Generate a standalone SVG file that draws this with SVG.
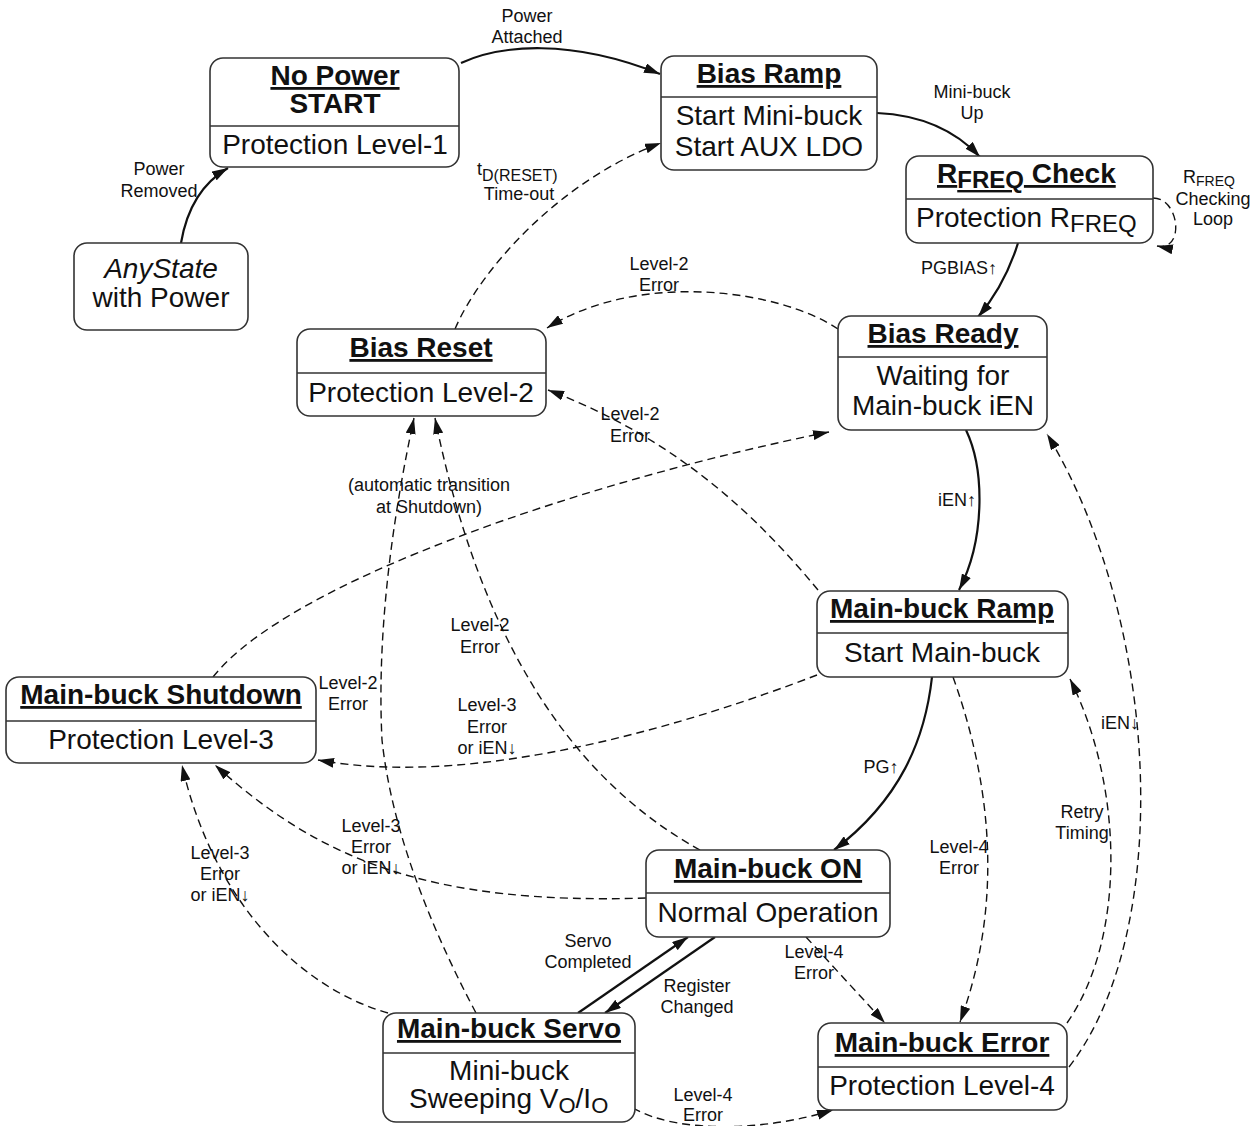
<svg xmlns="http://www.w3.org/2000/svg" width="1255" height="1126" viewBox="0 0 1255 1126">
<style>
.box{fill:#fff;stroke:#333;stroke-width:1.6}
.dv{stroke:#333;stroke-width:1.6}
.t{font-family:"Liberation Sans",Arial,sans-serif;font-weight:bold;font-size:28px;text-anchor:middle;text-decoration:underline;fill:#111}
.tn{font-family:"Liberation Sans",Arial,sans-serif;font-weight:bold;font-size:28px;text-anchor:middle;fill:#111}
.b{font-family:"Liberation Sans",Arial,sans-serif;font-size:28px;text-anchor:middle;fill:#111}
.l{font-family:"Liberation Sans",Arial,sans-serif;font-size:18px;text-anchor:middle;fill:#111}
.s{fill:none;stroke:#111;stroke-width:2.2;marker-end:url(#ah)}
.d{fill:none;stroke:#111;stroke-width:1.4;stroke-dasharray:8 5;marker-end:url(#ah)}
</style>
<defs>
<marker id="ah" viewBox="0 0 16 10" refX="16" refY="5" markerWidth="16" markerHeight="10" orient="auto" markerUnits="userSpaceOnUse">
<path d="M0,0 L16,5 L0,10 z" fill="#111"/>
</marker>
</defs>
<rect width="1255" height="1126" fill="#fff"/>

<g id="connectors">
<path class="s" d="M181,243 Q190,190 228,168"/>
<path class="s" d="M461,63 C500,45 570,38 660,74"/>
<path class="s" d="M877,113 C920,115 955,130 980,157"/>
<path class="s" d="M1018,243 Q1005,285 978,317"/>
<path class="s" d="M966,430 C985,470 985,540 959,590"/>
<path class="s" d="M932,677 C925,740 900,800 834,850"/>
<path class="s" d="M578,1013 L688,937"/>
<path class="s" d="M715,937 L605,1013"/>
<path class="d" d="M455,329 C480,270 560,180 661,143"/>
<path class="d" d="M838,329 C780,290 640,270 547,328"/>
<path class="d" d="M818,590 C760,520 680,440 548,390"/>
<path class="d" d="M213,677 C290,580 590,480 829,432"/>
<path class="d" d="M476,1013 Q395,860 382,740 Q375,600 414,418"/>
<path class="d" d="M700,850 Q500,740 435,418"/>
<path class="d" d="M817,675 C700,720 480,790 318,760"/>
<path class="d" d="M646,898 C430,905 320,860 215,765"/>
<path class="d" d="M388,1013 C290,985 210,890 182,765"/>
<path class="d" d="M806,937 L885,1023"/>
<path class="d" d="M953,677 C990,780 1005,900 960,1022"/>
<path class="d" d="M1067,1023 C1125,940 1125,790 1070,679"/>
<path class="d" d="M1069,1067 C1175,930 1160,620 1047,434"/>
<path class="d" d="M633,1108 C680,1135 770,1130 833,1110"/>
<path class="d" d="M1153,198 C1180,198 1185,252 1157,246"/>
</g>

<g id="edge-labels">
<text class="l" x="159" y="175">Power</text>
<text class="l" x="159" y="197">Removed</text>
<text class="l" x="527" y="22">Power</text>
<text class="l" x="527" y="43">Attached</text>
<text class="l" x="972" y="98">Mini-buck</text>
<text class="l" x="972" y="119">Up</text>
<text class="l" x="959" y="274">PGBIAS↑</text>
<text class="l" x="1183" y="183" style="text-anchor:start">R<tspan font-size="14" dy="3">FREQ</tspan></text>
<text class="l" x="1213" y="205">Checking</text>
<text class="l" x="1213" y="225">Loop</text>
<text class="l" x="477" y="175" style="text-anchor:start">t<tspan font-size="16" dy="6">D(RESET)</tspan></text>
<text class="l" x="519" y="200">Time-out</text>
<text class="l" x="659" y="270">Level-2</text>
<text class="l" x="659" y="291">Error</text>
<text class="l" x="630" y="420">Level-2</text>
<text class="l" x="630" y="442">Error</text>
<text class="l" x="429" y="491">(automatic transition</text>
<text class="l" x="429" y="513">at Shutdown)</text>
<text class="l" x="480" y="631">Level-2</text>
<text class="l" x="480" y="653">Error</text>
<text class="l" x="348" y="689">Level-2</text>
<text class="l" x="348" y="710">Error</text>
<text class="l" x="487" y="711">Level-3</text>
<text class="l" x="487" y="733">Error</text>
<text class="l" x="487" y="754">or iEN↓</text>
<text class="l" x="957" y="506">iEN↑</text>
<text class="l" x="881" y="773">PG↑</text>
<text class="l" x="371" y="832">Level-3</text>
<text class="l" x="371" y="853">Error</text>
<text class="l" x="371" y="874">or iEN↓</text>
<text class="l" x="220" y="859">Level-3</text>
<text class="l" x="220" y="880">Error</text>
<text class="l" x="220" y="901">or iEN↓</text>
<text class="l" x="959" y="853">Level-4</text>
<text class="l" x="959" y="874">Error</text>
<text class="l" x="1082" y="818">Retry</text>
<text class="l" x="1082" y="839">Timing</text>
<text class="l" x="1120" y="729">iEN↓</text>
<text class="l" x="588" y="947">Servo</text>
<text class="l" x="588" y="968">Completed</text>
<text class="l" x="697" y="992">Register</text>
<text class="l" x="697" y="1013">Changed</text>
<text class="l" x="814" y="958">Level-4</text>
<text class="l" x="814" y="979">Error</text>
<text class="l" x="703" y="1101">Level-4</text>
<text class="l" x="703" y="1121">Error</text>
</g>

<g id="no-power">
<rect class="box" x="210" y="58" width="249" height="109" rx="13"/>
<line class="dv" x1="210" y1="126" x2="459" y2="126"/>
<text class="t" x="335" y="85">No Power</text>
<text class="tn" x="335" y="113">START</text>
<text class="b" x="335" y="154">Protection Level-1</text>
</g>

<g id="any-state">
<rect class="box" x="74" y="243" width="174" height="87" rx="13"/>
<text class="b" x="161" y="278" font-style="italic">AnyState</text>
<text class="b" x="161" y="307">with Power</text>
</g>

<g id="bias-ramp">
<rect class="box" x="661" y="56" width="216" height="114" rx="13"/>
<line class="dv" x1="661" y1="97" x2="877" y2="97"/>
<text class="t" x="769" y="83">Bias Ramp</text>
<text class="b" x="769" y="125">Start Mini-buck</text>
<text class="b" x="769" y="156">Start AUX LDO</text>
</g>

<g id="rfreq-check">
<rect class="box" x="906" y="156" width="247" height="87" rx="13"/>
<line class="dv" x1="906" y1="199" x2="1153" y2="199"/>
<text class="t" x="937" y="183" style="text-anchor:start">R<tspan font-size="24" dy="5">FREQ</tspan><tspan dy="-5"> Check</tspan></text>
<text class="b" x="916" y="227" style="text-anchor:start">Protection R<tspan font-size="24" dy="5">FREQ</tspan></text>
</g>

<g id="bias-ready">
<rect class="box" x="838" y="316" width="209" height="114" rx="13"/>
<line class="dv" x1="838" y1="357" x2="1047" y2="357"/>
<text class="t" x="943" y="343">Bias Ready</text>
<text class="b" x="943" y="385">Waiting for</text>
<text class="b" x="943" y="415">Main-buck iEN</text>
</g>

<g id="bias-reset">
<rect class="box" x="297" y="329" width="249" height="87" rx="13"/>
<line class="dv" x1="297" y1="373" x2="546" y2="373"/>
<text class="t" x="421" y="357">Bias Reset</text>
<text class="b" x="421" y="402">Protection Level-2</text>
</g>

<g id="main-buck-ramp">
<rect class="box" x="817" y="591" width="251" height="86" rx="13"/>
<line class="dv" x1="817" y1="633" x2="1068" y2="633"/>
<text class="t" x="942" y="618">Main-buck Ramp</text>
<text class="b" x="942" y="662">Start Main-buck</text>
</g>

<g id="main-buck-shutdown">
<rect class="box" x="6" y="677" width="310" height="86" rx="13"/>
<line class="dv" x1="6" y1="721" x2="316" y2="721"/>
<text class="t" x="161" y="704">Main-buck Shutdown</text>
<text class="b" x="161" y="749">Protection Level-3</text>
</g>

<g id="main-buck-on">
<rect class="box" x="646" y="850" width="244" height="87" rx="13"/>
<line class="dv" x1="646" y1="893" x2="890" y2="893"/>
<text class="t" x="768" y="878">Main-buck ON</text>
<text class="b" x="768" y="922">Normal Operation</text>
</g>

<g id="main-buck-servo">
<rect class="box" x="383" y="1013" width="252" height="109" rx="13"/>
<line class="dv" x1="383" y1="1053" x2="635" y2="1053"/>
<text class="t" x="509" y="1038">Main-buck Servo</text>
<text class="b" x="509" y="1080">Mini-buck</text>
<text class="b" x="409" y="1108" style="text-anchor:start">Sweeping V<tspan font-size="22" dy="5">O</tspan><tspan dy="-5">/I</tspan><tspan font-size="22" dy="5">O</tspan></text>
</g>

<g id="main-buck-error">
<rect class="box" x="818" y="1023" width="249" height="87" rx="13"/>
<line class="dv" x1="818" y1="1067" x2="1067" y2="1067"/>
<text class="t" x="942" y="1052">Main-buck Error</text>
<text class="b" x="942" y="1095">Protection Level-4</text>
</g>
</svg>
